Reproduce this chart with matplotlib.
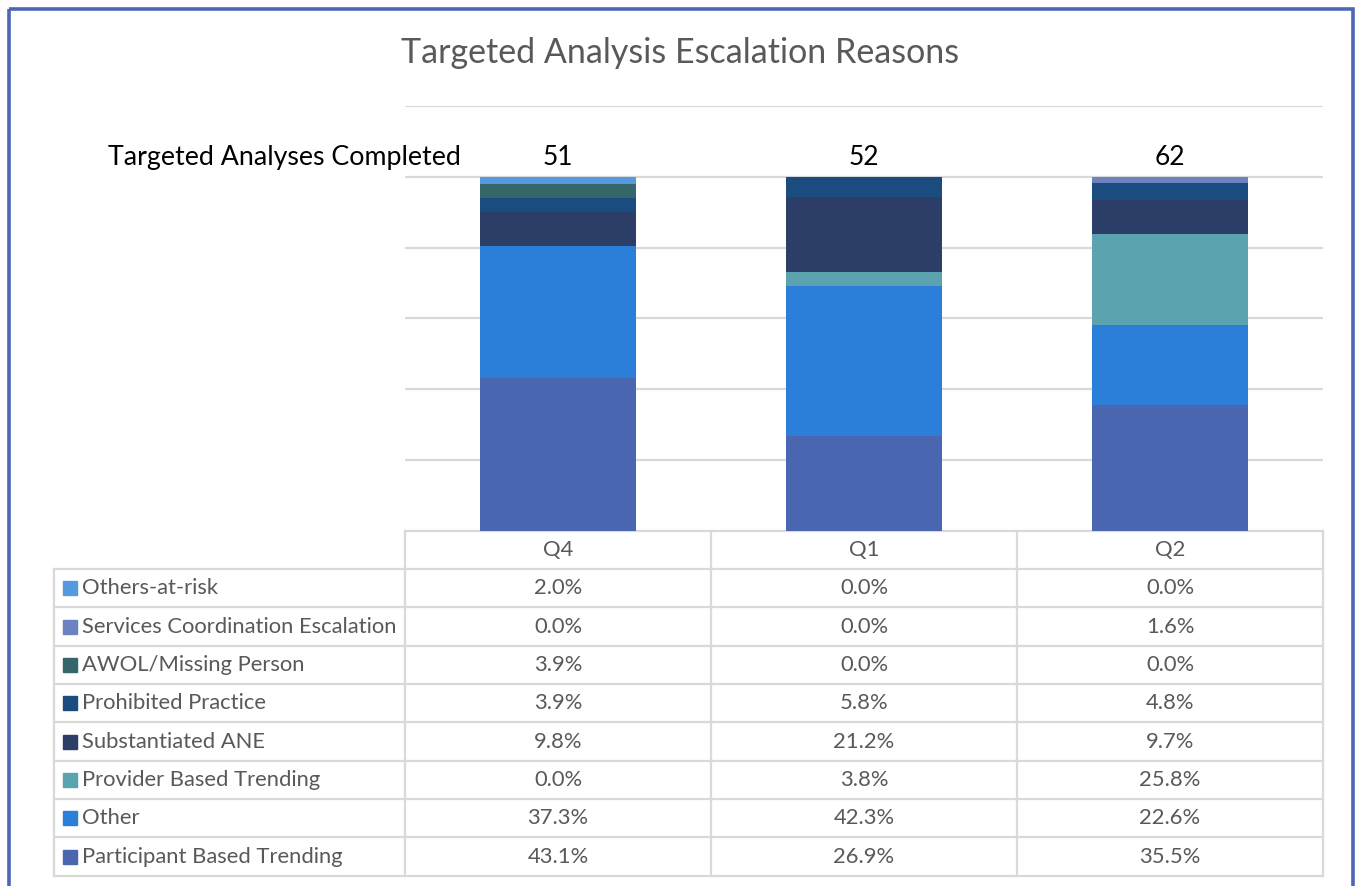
import numpy as np
import matplotlib.pyplot as plt
from matplotlib.patches import Rectangle

plt.rcParams['font.family'] = ['Lato', 'DejaVu Sans']

quarters = ['Q4', 'Q1', 'Q2']
completed = [51, 52, 62]

# series listed bottom of stack first
reasons = ['Participant Based Trending', 'Other', 'Provider Based Trending',
           'Substantiated ANE', 'Prohibited Practice', 'AWOL/Missing Person',
           'Services Coordination Escalation', 'Others-at-risk']
participant = [43.1, 26.9, 35.5]
other = [37.3, 42.3, 22.6]
provider = [0.0, 3.8, 25.8]
substantiated = [9.8, 21.2, 9.7]
prohibited = [3.9, 5.8, 4.8]
awol = [3.9, 0.0, 0.0]
services = [0.0, 0.0, 1.6]
others_at_risk = [2.0, 0.0, 0.0]
values = [participant, other, provider, substantiated, prohibited, awol,
          services, others_at_risk]
colors = ['#4A66B0', '#2B7FD8', '#5BA3AE', '#2C3D68', '#1B4C80',
          '#35666A', '#6D82C1', '#559ADF']

W, H = 1355, 886
fig = plt.figure(figsize=(W / 100, H / 100), dpi=100)

# overlay axes in pixel coordinates for border, table and texts
ov = fig.add_axes([0, 0, 1, 1])
ov.set_xlim(0, W)
ov.set_ylim(H, 0)
ov.axis('off')
ov.add_patch(Rectangle((9, 9), 1344, 900, fill=False, edgecolor='#4A68B5',
                       linewidth=2.6, clip_on=False))

# bar chart
left, right, bottom, top = 405, 1323, 531, 106
ax = fig.add_axes([left / W, (H - bottom) / H, (right - left) / W, (bottom - top) / H])
ax.patch.set_alpha(0)
x = np.arange(len(quarters))
base = np.zeros(len(quarters))
for vals, col in zip(values, colors):
    v = np.array(vals) / 100
    ax.bar(x, v, bottom=base, width=0.513, color=col, zorder=3)
    base += v
ax.set_xlim(-0.5, 2.5)
ax.set_ylim(0, 1.2)
ax.set_yticks(np.arange(0.2, 1.21, 0.2))
ax.yaxis.grid(True, color='#D9D9D9', linewidth=1.6, zorder=0)
ax.tick_params(left=False, bottom=False, labelleft=False, labelbottom=False)
for s in ax.spines.values():
    s.set_visible(False)
for xi, n in zip(x, completed):
    ax.text(xi, 1.055, str(n), ha='center', va='center', fontsize=19, color='black')

fig.text(680 / W, 1 - 53 / H, 'Targeted Analysis Escalation Reasons', ha='center',
         va='center', fontsize=24.5, color='#595959')
fig.text(108 / W, 1 - 158 / H, 'Targeted Analyses Completed', ha='left',
         va='center', fontsize=19.3, color='black')

# data table below the bars
grid_c = '#D9D9D9'
lw = 1.6
fs = 15.8
col_edges = [405, 711, 1017, 1323]
row_edges = [569 + i * 38.35 for i in range(len(reasons) + 1)]
ov.plot([405, 1323], [531, 531], color=grid_c, lw=lw)
for r in row_edges:
    ov.plot([54, 1323], [r, r], color=grid_c, lw=lw)
ov.plot([54, 54], [569, row_edges[-1]], color=grid_c, lw=lw)
for c in col_edges:
    ov.plot([c, c], [531, row_edges[-1]], color=grid_c, lw=lw)
for j, q in enumerate(quarters):
    ov.text((col_edges[j] + col_edges[j + 1]) / 2, 550, q, ha='center',
            va='center', fontsize=fs, color='#595959')

# table rows go top of stack first
for i, k in enumerate(range(len(reasons) - 1, -1, -1)):
    yc = (row_edges[i] + row_edges[i + 1]) / 2
    ov.add_patch(Rectangle((63, yc - 7), 14, 14, color=colors[k]))
    ov.text(82, yc, reasons[k], ha='left', va='center', fontsize=fs, color='#595959')
    for j in range(len(quarters)):
        ov.text((col_edges[j] + col_edges[j + 1]) / 2, yc, '%.1f%%' % values[k][j],
                ha='center', va='center', fontsize=fs, color='#595959')

fig.savefig('out.png', dpi=100)
